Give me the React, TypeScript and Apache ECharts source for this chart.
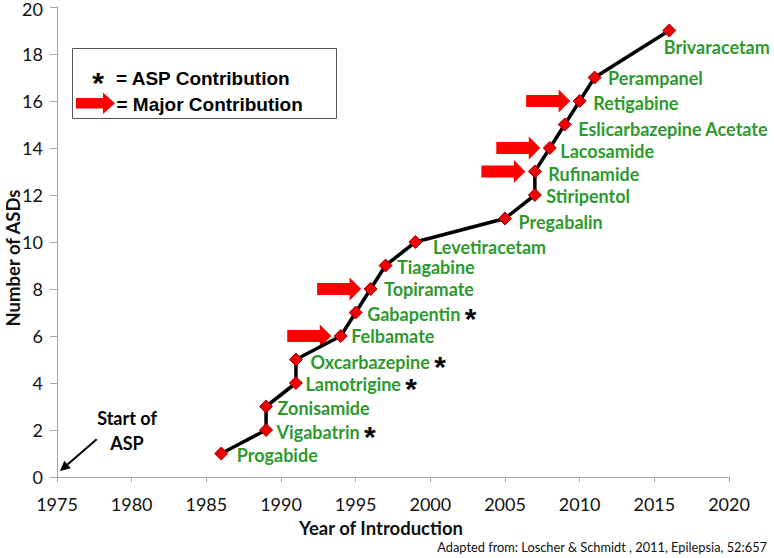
import React, { useEffect, useRef } from 'react';
import * as echarts from 'echarts';

// ---- Data ----
const drugs = [
  'Progabide', 'Vigabatrin', 'Zonisamide', 'Lamotrigine', 'Oxcarbazepine', 'Felbamate',
  'Gabapentin', 'Topiramate', 'Tiagabine', 'Levetiracetam', 'Pregabalin', 'Stiripentol',
  'Rufinamide', 'Lacosamide', 'Eslicarbazepine Acetate', 'Retigabine', 'Perampanel', 'Brivaracetam',
];
const years = [1986, 1989, 1989, 1991, 1991, 1994, 1995, 1996, 1997, 1999, 2005, 2007, 2007, 2008, 2009, 2010, 2011, 2016];
const counts = [1, 2, 3, 4, 5, 6, 7, 8, 9, 10, 11, 12, 13, 14, 15, 16, 17, 19];
const aspDrugs = ['Vigabatrin', 'Lamotrigine', 'Oxcarbazepine', 'Gabapentin'];
const majorDrugs = ['Felbamate', 'Topiramate', 'Rufinamide', 'Lacosamide', 'Retigabine'];
const xMin = 1975, xMax = 2020, xInterval = 5;
const yMin = 0, yMax = 20, yInterval = 2;

// ---- Layout (label offsets from each point, px) ----
const labelOffsets: Record<string, [number, number]> = {
  Progabide: [15, 1.5], Vigabatrin: [10, 1.5], Zonisamide: [11, 1], Lamotrigine: [9, 1],
  Oxcarbazepine: [14, 2], Felbamate: [10, 0], Gabapentin: [11, 1], Topiramate: [13, 0],
  Tiagabine: [11, 1.5], Levetiracetam: [17, 4.5], Pregabalin: [13, 3], Stiripentol: [11, 1],
  Rufinamide: [13, 2.5], Lacosamide: [10, 3], 'Eslicarbazepine Acetate': [13, 4],
  Retigabine: [13, 2], Perampanel: [13, 0], Brivaracetam: [-6, 16],
};

const GREEN = '#2e9a2e';
const LABEL_FONT = 'Lato, "Noto Sans", sans-serif';
const ARIAL = '"Liberation Sans", Arial, sans-serif';
const SYM = 13;

export default function App() {
  const ref = useRef<HTMLDivElement>(null);
  useEffect(() => {
    if (!ref.current) return;
    const chart = echarts.init(ref.current, null, { renderer: 'svg' });

    const lineData = drugs.map((name, i) => {
      const off = labelOffsets[name] || [10, 0];
      return {
        name,
        value: [years[i], counts[i]],
        label: { offset: [off[0] - SYM / 2, off[1]] },
      };
    });
    const arrowData = majorDrugs.map((n) => {
      const i = drugs.indexOf(n);
      return [years[i], counts[i]];
    });

    // "Start of ASP" arrow geometry
    const sx = 96.7, sy = 439.3, tx = 60, ty = 471;
    const dxs = tx - sx, dys = ty - sy;
    const len = Math.hypot(dxs, dys);
    const ux = dxs / len, uy = dys / len;
    const hl = 10, hw = 5;
    const bx = tx - ux * hl, by = ty - uy * hl;
    const px = -uy, py = ux;

    chart.setOption({
      animation: false,
      grid: { left: 57, right: 45, top: 7, bottom: 81, containLabel: false, outerBoundsMode: 'none' },
      xAxis: {
        type: 'value', min: xMin, max: xMax, interval: xInterval,
        axisLine: { lineStyle: { color: '#a6a6a6', width: 1 } },
        axisTick: { show: true, length: 5, lineStyle: { color: '#a6a6a6' } },
        axisLabel: { fontFamily: LABEL_FONT, fontSize: 18, color: '#111', margin: 18, formatter: (v: number) => String(v) },
        splitLine: { show: false },
      },
      yAxis: {
        type: 'value', min: yMin, max: yMax, interval: yInterval,
        axisLine: { show: true, lineStyle: { color: '#a6a6a6', width: 1 } },
        axisTick: { show: true, length: 7, lineStyle: { color: '#a6a6a6' } },
        axisLabel: {
          fontFamily: LABEL_FONT, fontSize: 18, lineHeight: 12, color: '#111', margin: 14,
          formatter: (v: number) => (v === yMax ? `{t|${v}}` : String(v)),
          rich: { t: { fontFamily: LABEL_FONT, fontSize: 18, lineHeight: 12, color: '#111', padding: [4, 0, 0, 0] } },
        },
        splitLine: { show: false },
      },
      series: [
        {
          type: 'line',
          data: lineData,
          lineStyle: { color: '#000', width: 3.5 },
          symbol: 'diamond',
          symbolSize: SYM,
          itemStyle: { color: '#ee0000', borderColor: '#a00000', borderWidth: 1 },
          z: 3,
          label: {
            show: true,
            position: 'right',
            distance: 0,
            fontFamily: LABEL_FONT,
            fontWeight: 'bold',
            fontSize: 18,
            lineHeight: 16,
            color: GREEN,
            formatter: (p: any) => (aspDrugs.includes(p.name) ? `${p.name} {s|*}` : p.name),
            rich: {
              s: {
                fontFamily: ARIAL,
                fontWeight: 'bold',
                fontSize: 30,
                lineHeight: 16,
                color: '#000',
                padding: [9, 0, 0, 0],
              },
            },
          },
        },
        {
          type: 'custom',
          data: arrowData,
          z: 2,
          silent: true,
          renderItem: (params: any, api: any) => {
            const p = api.coord([api.value(0), api.value(1)]);
            const tip = p[0] - 9.5;
            const y = p[1];
            const hx = tip - 11.5;
            return {
              type: 'polygon',
              shape: {
                points: [
                  [tip - 44, y - 6], [hx, y - 6], [hx, y - 11.5], [tip, y],
                  [hx, y + 11.5], [hx, y + 6], [tip - 44, y + 6],
                ],
              },
              style: { fill: '#ff0000' },
            };
          },
        },
      ],
      graphic: [
        // Axis titles
        { type: 'text', x: 381, y: 528, style: { text: 'Year of Introduction', fontFamily: LABEL_FONT, fontWeight: 'bold', fontSize: 18.5, fill: '#111', align: 'center', verticalAlign: 'middle' } },
        { type: 'text', x: 13, y: 258, rotation: Math.PI / 2, style: { text: 'Number of ASDs', fontFamily: LABEL_FONT, fontWeight: 'bold', fontSize: 18.5, fill: '#111', align: 'center', verticalAlign: 'middle' } },
        // Legend box
        { type: 'rect', shape: { x: 72.5, y: 48.5, width: 264, height: 70 }, style: { fill: '#fff', stroke: '#555', lineWidth: 1 }, z: 10 },
        { type: 'text', x: 98, y: 82, style: { text: '*', fontFamily: ARIAL, fontWeight: 'bold', fontSize: 30, fill: '#000', align: 'center', verticalAlign: 'middle' }, z: 11 },
        { type: 'text', x: 116, y: 78, style: { text: '= ASP Contribution', fontFamily: ARIAL, fontWeight: 'bold', fontSize: 19, fill: '#000', verticalAlign: 'middle' }, z: 11 },
        {
          type: 'polygon', z: 11,
          shape: { points: [[76, 98], [103, 98], [103, 92.5], [115, 103.3], [103, 114], [103, 108.6], [76, 108.6]] },
          style: { fill: '#ff0000' },
        },
        { type: 'text', x: 116.5, y: 104, style: { text: '= Major Contribution', fontFamily: ARIAL, fontWeight: 'bold', fontSize: 19, fill: '#000', verticalAlign: 'middle' }, z: 11 },
        // Start of ASP
        { type: 'text', x: 127, y: 418, style: { text: 'Start of', fontFamily: LABEL_FONT, fontWeight: 'bold', fontSize: 18, fill: '#000', align: 'center', verticalAlign: 'middle' } },
        { type: 'text', x: 127, y: 442.5, style: { text: 'ASP', fontFamily: LABEL_FONT, fontWeight: 'bold', fontSize: 18, fill: '#000', align: 'center', verticalAlign: 'middle' } },
        { type: 'line', shape: { x1: sx, y1: sy, x2: bx, y2: by }, style: { stroke: '#000', lineWidth: 2 } },
        {
          type: 'polygon',
          shape: { points: [[tx, ty], [bx + px * hw, by + py * hw], [bx - px * hw, by - py * hw]] },
          style: { fill: '#000' },
        },
        // Footnote
        { type: 'text', x: 767, y: 547, style: { text: 'Adapted from: Loscher & Schmidt , 2011, Epilepsia, 52:657', fontFamily: LABEL_FONT, fontSize: 12.8, fill: '#111', align: 'right', verticalAlign: 'middle' } },
      ],
    });
    return () => chart.dispose();
  }, []);
  return <div ref={ref} style={{ position: 'fixed', left: 0, top: 0, width: 774, height: 558, background: '#fff' }} />;
}
